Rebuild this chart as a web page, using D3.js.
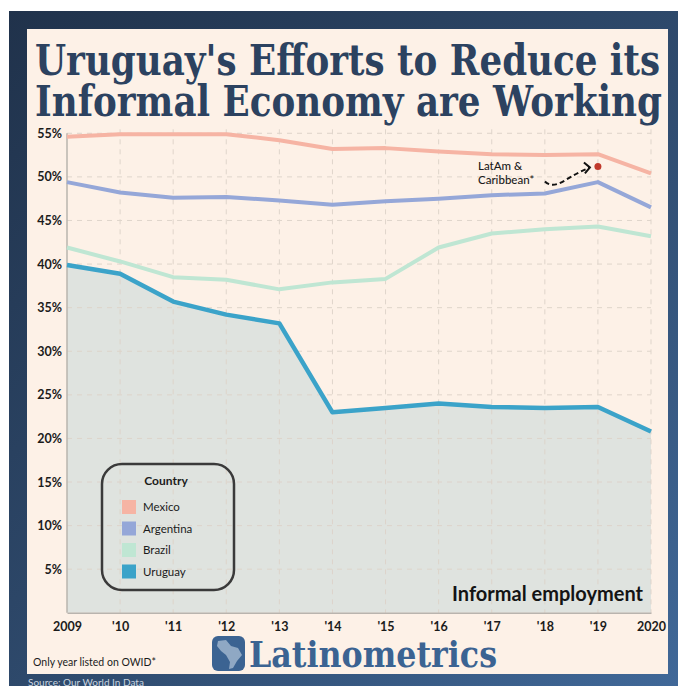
<!DOCTYPE html>
<html>
<head>
  <meta charset="UTF-8">
  <style>
    body { margin: 0; background: #fff; }
    svg { display: block; }
    .tick text { font-family: Lato, "Noto Sans", sans-serif; font-weight: 700; fill: #1b1b1b; }
  </style>
</head>
<body>
<svg></svg>
<script src="https://d3js.org/d3.v7.min.js"></script>
<script>

let width = 678, height = 686;

// data (informal employment, % of employment)
let years = [2009, 2010, 2011, 2012, 2013, 2014, 2015, 2016, 2017, 2018, 2019, 2020];
let mexico    = [54.6, 54.9, 54.9, 54.9, 54.2, 53.2, 53.3, 52.9, 52.6, 52.5, 52.6, 50.4];
let argentina = [49.4, 48.2, 47.6, 47.7, 47.3, 46.8, 47.2, 47.5, 47.9, 48.1, 49.4, 46.5];
let brazil    = [41.9, 40.3, 38.5, 38.2, 37.1, 37.9, 38.3, 41.9, 43.5, 44.0, 44.3, 43.2];
let uruguay   = [39.9, 38.9, 35.7, 34.2, 33.2, 23.0, 23.5, 24.0, 23.6, 23.5, 23.6, 20.8];
let latamYear = 2019, latamValue = 51.2;
let countries = ["Mexico", "Argentina", "Brazil", "Uruguay"];
let colors = ["#f6b4a4", "#95a7d8", "#bfe6d3", "#3ba3c9"];
let yTicks = [5, 10, 15, 20, 25, 30, 35, 40, 45, 50, 55];
let xLabels = ["2009", "'10", "'11", "'12", "'13", "'14", "'15", "'16", "'17", "'18", "'19", "2020"];

let series = [mexico, argentina, brazil, uruguay];

let svg = d3.select("svg")
    .attr("width", width)
    .attr("height", height);

// frame
let defs = svg.append("defs");
let grad = defs.append("linearGradient")
    .attr("id", "frame")
    .attr("x1", "0").attr("y1", "0").attr("x2", "1").attr("y2", "1");
grad.append("stop").attr("offset", "0%").attr("stop-color", "#20324b");
grad.append("stop").attr("offset", "55%").attr("stop-color", "#2f4b6e");
grad.append("stop").attr("offset", "100%").attr("stop-color", "#406898");

svg.append("rect")
    .attr("x", 9).attr("y", 11)
    .attr("width", width - 9).attr("height", height - 11)
    .attr("fill", "url(#frame)");

svg.append("rect")
    .attr("x", 27).attr("y", 29)
    .attr("width", 641).attr("height", 645)
    .attr("fill", "#fdf1e7");

// title
let title = svg.append("g")
    .attr("font-family", "'DejaVu Serif', serif")
    .attr("font-weight", 700)
    .attr("fill", "#2c4260");
title.append("text")
    .attr("x", 35).attr("y", 75)
    .attr("font-size", 43)
    .attr("textLength", 625)
    .attr("lengthAdjust", "spacingAndGlyphs")
    .text("Uruguay's Efforts to Reduce its");
title.append("text")
    .attr("x", 35).attr("y", 116)
    .attr("font-size", 43)
    .attr("textLength", 627)
    .attr("lengthAdjust", "spacingAndGlyphs")
    .text("Informal Economy are Working");

// scales
let x = d3.scaleLinear().domain([2009, 2020]).range([67, 651]);
let y = d3.scaleLinear().domain([0, 55]).range([612.8, 133.3]);

// uruguay area
let area = d3.area()
    .x((d, i) => x(years[i]))
    .y0(y(0))
    .y1(d => y(d));
svg.append("path")
    .datum(uruguay)
    .attr("d", area)
    .attr("fill", "#dfe3df");

// grid
let grid = svg.append("g")
    .attr("stroke", "#ddd3c9")
    .attr("stroke-width", 1)
    .attr("stroke-dasharray", "5,5")
    .attr("opacity", 0.9);
grid.selectAll("line.h")
    .data(yTicks)
    .enter()
    .append("line")
    .attr("x1", x(2009)).attr("x2", x(2020))
    .attr("y1", d => y(d)).attr("y2", d => y(d));
grid.selectAll("line.v")
    .data(years.slice(1))
    .enter()
    .append("line")
    .attr("x1", d => x(d)).attr("x2", d => x(d))
    .attr("y1", y(55) - 4).attr("y2", y(0));

// axes
let yAxis = d3.axisLeft(y)
    .tickValues(yTicks)
    .tickFormat(d => d + "%")
    .tickSize(0)
    .tickPadding(5);
let gy = svg.append("g")
    .attr("transform", "translate(" + x(2009) + ",0)")
    .call(yAxis);
gy.select(".domain").attr("stroke", "#b9b4ae").attr("stroke-width", 1.5)
    .attr("d", "M0," + (y(55)) + "V" + y(0));
gy.selectAll(".tick text").attr("font-size", 12.5).attr("font-weight", 900);

let xAxis = d3.axisBottom(x)
    .tickValues(years)
    .tickFormat((d, i) => xLabels[i])
    .tickSize(0)
    .tickPadding(9);
let gx = svg.append("g")
    .attr("transform", "translate(0," + y(0) + ")")
    .call(xAxis);
gx.select(".domain").attr("stroke", "#b9b4ae").attr("stroke-width", 1.5);
gx.selectAll(".tick text").attr("font-size", 12.5).attr("font-weight", 900);

// lines
let line = d3.line()
    .x((d, i) => x(years[i]))
    .y(d => y(d));
svg.append("g")
    .selectAll("path")
    .data(series)
    .enter()
    .append("path")
    .attr("d", line)
    .attr("fill", "none")
    .attr("stroke", (d, i) => colors[i])
    .attr("stroke-width", (d, i) => i == 3 ? 4.5 : 4)
    .attr("stroke-linejoin", "round");

// latam annotation
svg.append("circle")
    .attr("cx", x(latamYear))
    .attr("cy", y(latamValue))
    .attr("r", 3.5)
    .attr("fill", "#c0392b");

let ann = svg.append("g")
    .attr("font-family", "Lato, sans-serif")
    .attr("font-size", 11.5)
    .attr("font-weight", 500)
    .attr("fill", "#1b1b1b");
ann.append("text").attr("x", 478).attr("y", 170).text("LatAm &");
ann.append("text").attr("x", 478).attr("y", 184).text("Caribbean*");

let ax = x(latamYear), ay = y(latamValue);
svg.append("path")
    .attr("d", "M" + (ax - 53) + "," + (ay + 15) + " Q" + (ax - 46) + "," + (ay + 22) + " " + (ax - 33) + "," + (ay + 14) + " T" + (ax - 8) + "," + (ay + 1))
    .attr("fill", "none")
    .attr("stroke", "#111")
    .attr("stroke-width", 2)
    .attr("stroke-dasharray", "5,3");
svg.append("path")
    .attr("d", "M" + (ax - 14) + "," + (ay - 4) + " L" + (ax - 8) + "," + (ay + 1) + " L" + (ax - 13) + "," + (ay + 7))
    .attr("fill", "none")
    .attr("stroke", "#111")
    .attr("stroke-width", 2);

// legend
let legend = svg.append("g")
    .attr("font-family", "Lato, sans-serif")
    .attr("fill", "#1b1b1b");
legend.append("rect")
    .attr("x", 102).attr("y", 464)
    .attr("width", 132).attr("height", 126)
    .attr("rx", 20)
    .attr("fill", "none")
    .attr("stroke", "#3a3a3a")
    .attr("stroke-width", 2.5);
legend.append("text")
    .attr("x", 166).attr("y", 485)
    .attr("text-anchor", "middle")
    .attr("font-size", 12)
    .attr("font-weight", 700)
    .text("Country");
let items = legend.selectAll("g.item")
    .data(countries)
    .enter()
    .append("g")
    .attr("transform", (d, i) => "translate(122," + (500 + i * 21.5) + ")");
items.append("rect")
    .attr("width", 14).attr("height", 14)
    .attr("fill", (d, i) => colors[i]);
items.append("text")
    .attr("x", 21).attr("y", 11)
    .attr("font-size", 11.5)
    .text(d => d);

// chart label
svg.append("text")
    .attr("x", 643).attr("y", 601)
    .attr("text-anchor", "end")
    .attr("font-family", "Lato, sans-serif")
    .attr("font-size", 20)
    .attr("font-weight", 700)
    .attr("fill", "#141414")
    .text("Informal employment");

// footer
svg.append("text")
    .attr("x", 33).attr("y", 666)
    .attr("font-family", "Lato, sans-serif")
    .attr("font-size", 10.5)
    .attr("fill", "#1b1b1b")
    .text("Only year listed on OWID*");

svg.append("rect")
    .attr("x", 212).attr("y", 636)
    .attr("width", 33).attr("height", 35)
    .attr("rx", 6)
    .attr("fill", "#3b6392");
svg.append("path")
    .attr("d", "M218,641 L226,640 L231,646 L238,648 L242,655 L237,661 L233,668 L229,669 L230,662 L226,655 L221,651 L217,646 Z")
    .attr("fill", "#8fa8c4");
svg.append("text")
    .attr("x", 249).attr("y", 667)
    .attr("font-family", "'DejaVu Serif', serif")
    .attr("font-weight", 700)
    .attr("font-size", 35)
    .attr("textLength", 248)
    .attr("lengthAdjust", "spacingAndGlyphs")
    .attr("fill", "#3b6392")
    .text("Latinometrics");

svg.append("text")
    .attr("x", 28).attr("y", 686)
    .attr("font-family", "Lato, sans-serif")
    .attr("font-size", 10)
    .attr("fill", "#c9d3df")
    .text("Source: Our World In Data");

</script>
</body>
</html>
